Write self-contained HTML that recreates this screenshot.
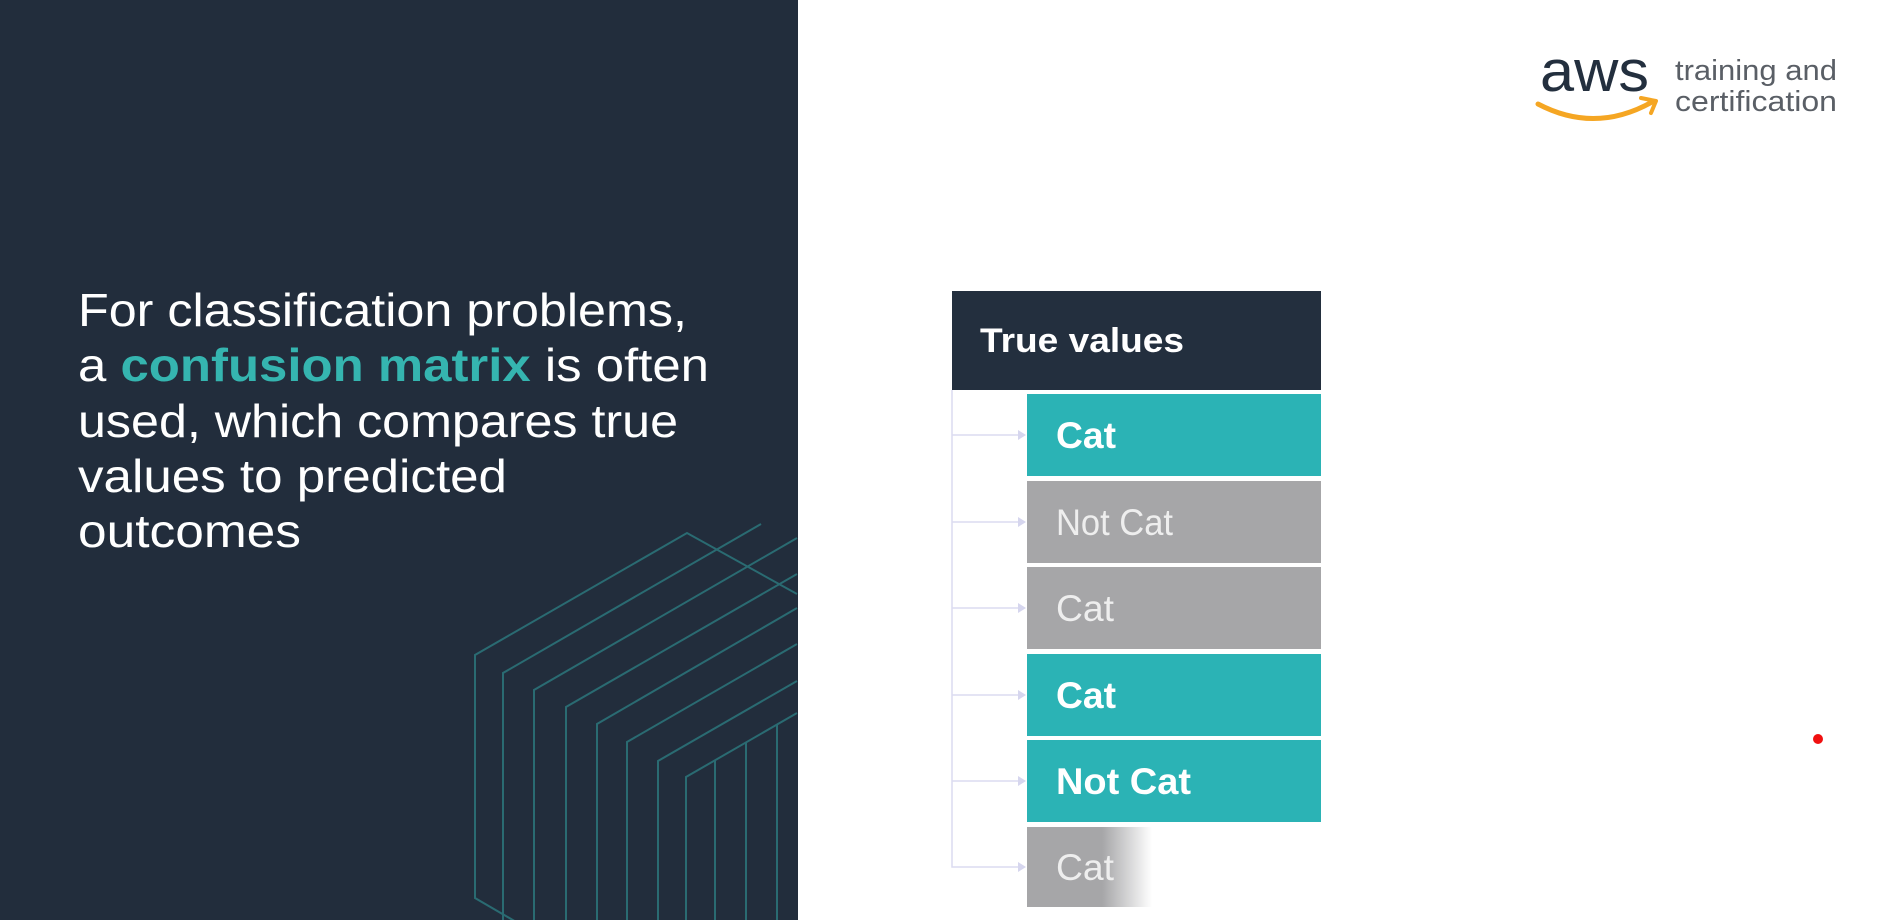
<!DOCTYPE html>
<html><head><meta charset="utf-8"><style>
html,body{margin:0;padding:0;width:1899px;height:920px;overflow:hidden;background:#fff}
svg{display:block}
</style></head><body>
<svg width="1899" height="920" viewBox="0 0 1899 920" xmlns="http://www.w3.org/2000/svg">
<defs>
<linearGradient id="fade" x1="0" x2="1" y1="0" y2="0">
<stop offset="0" stop-color="#a6a6a8"/><stop offset="0.6" stop-color="#a6a6a8"/><stop offset="1" stop-color="#a6a6a8" stop-opacity="0"/>
</linearGradient>
</defs>
<rect x="0" y="0" width="798" height="920" fill="#222d3c"/>
<g fill="none" stroke="#2a6b72" stroke-width="2">
<polyline points="797,594 687,533 475,655 475,898 530,930"/>
<polyline points="503,920 503,673 761,524"/>
<polyline points="534,920 534,690 797,538"/>
<polyline points="566,920 566,707 797,574"/>
<polyline points="597,920 597,724 797,608"/>
<polyline points="627,920 627,742 797,644"/>
<polyline points="658,920 658,761 797,681"/>
<polyline points="686,920 686,777 797,713"/>
<line x1="715" y1="761" x2="715" y2="920"/>
<line x1="746" y1="743" x2="746" y2="920"/>
<line x1="777" y1="725" x2="777" y2="920"/>
</g>
<g font-family="Liberation Sans, sans-serif" font-size="46" fill="#ffffff">
<text x="78" y="326" textLength="609" lengthAdjust="spacingAndGlyphs">For classification problems,</text>
<text x="78" y="381" textLength="631" lengthAdjust="spacingAndGlyphs">a <tspan fill="#35b5b0" font-weight="bold">confusion matrix</tspan> is often</text>
<text x="78" y="437" textLength="600" lengthAdjust="spacingAndGlyphs">used, which compares true</text>
<text x="78" y="492" textLength="429" lengthAdjust="spacingAndGlyphs">values to predicted</text>
<text x="78" y="547" textLength="223" lengthAdjust="spacingAndGlyphs">outcomes</text>
</g>
<!-- logo -->
<text x="1540" y="91" font-family="Liberation Sans, sans-serif" font-size="58" fill="#232f3e" textLength="109" lengthAdjust="spacingAndGlyphs">aws</text>
<path d="M1538,104 Q1595,134 1652,102" fill="none" stroke="#f5a623" stroke-width="5" stroke-linecap="round"/>
<path d="M1641,98 L1656,101 L1651,113" fill="none" stroke="#f5a623" stroke-width="4" stroke-linecap="round" stroke-linejoin="round"/>
<g font-family="Liberation Sans, sans-serif" font-size="29" fill="#5a5f66">
<text x="1675" y="80" textLength="162" lengthAdjust="spacingAndGlyphs">training and</text>
<text x="1675" y="111" textLength="162" lengthAdjust="spacingAndGlyphs">certification</text>
</g>
<!-- matrix -->
<rect x="952" y="291" width="369" height="99" fill="#232f3e"/>
<text x="980" y="352" font-family="Liberation Sans, sans-serif" font-size="34" fill="#fff" textLength="204" lengthAdjust="spacingAndGlyphs" font-weight="bold">True values</text>
<g stroke="#dcdcf0" stroke-width="1.5" fill="none">
<polyline points="952,390 952,867 1022,867"/>
<line x1="952" y1="435" x2="1022" y2="435"/>
<line x1="952" y1="522" x2="1022" y2="522"/>
<line x1="952" y1="608" x2="1022" y2="608"/>
<line x1="952" y1="695" x2="1022" y2="695"/>
<line x1="952" y1="781" x2="1022" y2="781"/>
</g>
<g fill="#d6d6ee">
<path d="M1018,430 L1026,435 L1018,440Z"/><path d="M1018,517 L1026,522 L1018,527Z"/>
<path d="M1018,603 L1026,608 L1018,613Z"/><path d="M1018,690 L1026,695 L1018,700Z"/>
<path d="M1018,776 L1026,781 L1018,786Z"/><path d="M1018,862 L1026,867 L1018,872Z"/>
</g>
<rect x="1027" y="394" width="294" height="82" fill="#2bb3b5"/>
<rect x="1027" y="481" width="294" height="82" fill="#a6a6a8"/>
<rect x="1027" y="567" width="294" height="82" fill="#a6a6a8"/>
<rect x="1027" y="654" width="294" height="82" fill="#2bb3b5"/>
<rect x="1027" y="740" width="294" height="82" fill="#2bb3b5"/>
<rect x="1027" y="827" width="125" height="80" fill="url(#fade)"/>
<g font-family="Liberation Sans, sans-serif" font-size="37">
<text x="1056" y="448" fill="#fff" font-weight="bold" textLength="60" lengthAdjust="spacingAndGlyphs">Cat</text>
<text x="1056" y="535" fill="#eeeeee" textLength="117" lengthAdjust="spacingAndGlyphs">Not Cat</text>
<text x="1056" y="621" fill="#eeeeee" textLength="58" lengthAdjust="spacingAndGlyphs">Cat</text>
<text x="1056" y="708" fill="#fff" font-weight="bold" textLength="60" lengthAdjust="spacingAndGlyphs">Cat</text>
<text x="1056" y="794" fill="#fff" font-weight="bold" textLength="135" lengthAdjust="spacingAndGlyphs">Not Cat</text>
<text x="1056" y="880" fill="#eeeeee" textLength="58" lengthAdjust="spacingAndGlyphs">Cat</text>
</g>
<circle cx="1818" cy="739" r="5" fill="#f01010"/>
</svg>
</body></html>
